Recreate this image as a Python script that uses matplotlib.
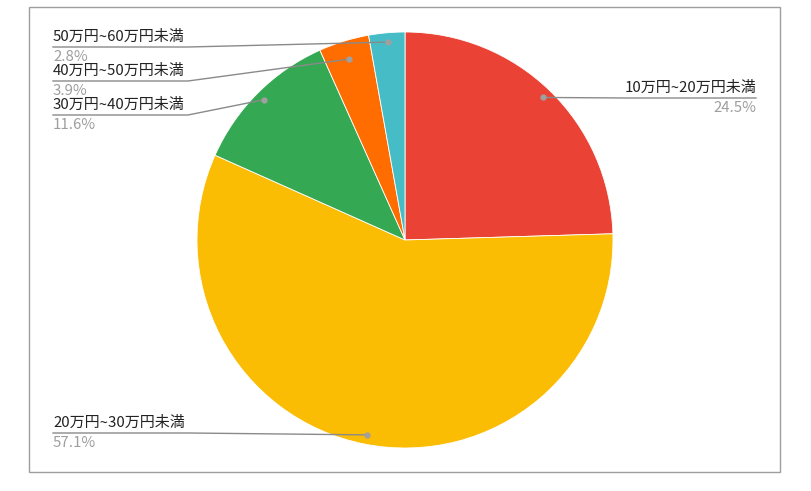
import numpy as np
import matplotlib.pyplot as plt
from matplotlib.patches import Rectangle

plt.rcParams['font.family'] = ['Noto Sans CJK JP', 'DejaVu Sans']

# データ（12時の位置から時計回り）
labels = ['10万円~20万円未満', '20万円~30万円未満', '30万円~40万円未満',
          '40万円~50万円未満', '50万円~60万円未満']
shares = [24.5, 57.1, 11.6, 3.9, 2.8]
colors = ['#EA4335', '#FBBC04', '#34A853', '#FF6D01', '#46BDC6']

# ラベルの配置（ピクセル座標, 上が0）
label_x = [756, 53, 53, 53, 53]
label_y = [98, 433, 115, 81, 47]
label_side = ['right', 'left', 'left', 'left', 'left']
dot_frac = [0.955, 0.955, 0.955, 0.91, 0.955]

W, H = 812, 491
fig = plt.figure(figsize=(W / 100, H / 100), dpi=100)
ax = fig.add_axes([0, 0, 1, 1])

cx, cy, r = 405, H - 240, 208
wedges, _ = ax.pie(shares, colors=colors, startangle=90, counterclock=False,
                   center=(cx, cy), radius=r,
                   wedgeprops=dict(edgecolor='white', linewidth=0.6))

ax.set_xlim(0, W)
ax.set_ylim(0, H)
ax.set_aspect('equal')
ax.axis('off')

# 外枠
ax.add_patch(Rectangle((29.5, H - 472), 751, 465, fill=False,
                       edgecolor='#9e9e9e', linewidth=1))

for w, lab, val, lx, ly, side, fr in zip(wedges, labels, shares, label_x,
                                         label_y, label_side, dot_frac):
    mid = np.deg2rad((w.theta1 + w.theta2) / 2)
    dx = cx + fr * r * np.cos(mid)
    dy = cy + fr * r * np.sin(mid)
    y = H - ly
    if side == 'right':
        x_end = lx - 130
        ha = 'right'
    else:
        x_end = lx + 135
        ha = 'left'
    ax.plot([lx, x_end, dx], [y, y, dy], color='#8a8a8a', linewidth=1, zorder=3)
    ax.plot(dx, dy, 'o', color='#a0a0a0', markersize=3.5, zorder=4)
    ax.text(lx, y + 3, lab, ha=ha, va='bottom', fontsize=10.8, color='#222222')
    ax.text(lx, y - 3, f'{val}%', ha=ha, va='top', fontsize=10.8, color='#9e9e9e')

fig.savefig('out.png', dpi=100)
